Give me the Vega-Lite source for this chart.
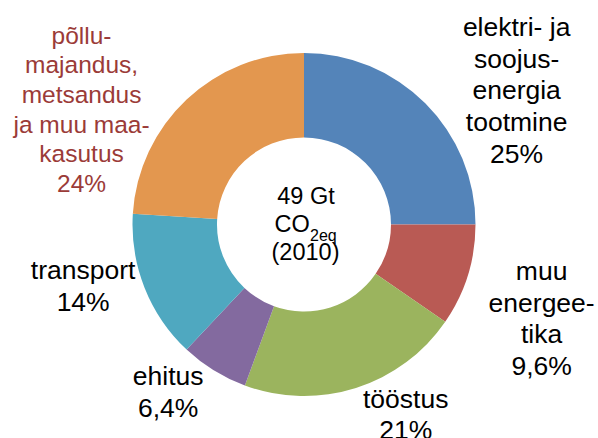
{
  "$schema": "https://vega.github.io/schema/vega-lite/v6.json",
  "width": 588,
  "height": 427,
  "padding": {"left": 10, "top": 11, "right": 0, "bottom": 0},
  "autosize": {"type": "none"},
  "background": "white",
  "config": {"view": {"stroke": null}, "text": {"font": "Liberation Sans"}},
  "data": {"values": [
    {"n": 1, "cat": "elektri", "label": "elektri- ja\nsoojus-\nenergia\ntootmine\n25%", "value": 25},
    {"n": 2, "cat": "muu", "label": "muu\nenergee-\ntika\n9,6%", "value": 9.6},
    {"n": 3, "cat": "tööstus", "label": "tööstus\n21%", "value": 21},
    {"n": 4, "cat": "ehitus", "label": "ehitus\n6,4%", "value": 6.4},
    {"n": 5, "cat": "transport", "label": "transport\n14%", "value": 14},
    {"n": 6, "cat": "põllu", "label": "põllu-\nmajandus,\nmetsandus\nja muu maa-\nkasutus\n24%", "value": 24}
  ]},
  "layer": [
    {
      "mark": {"type": "arc", "radius": 171.5, "radius2": 87},
      "encoding": {
        "theta": {"field": "value", "type": "quantitative", "stack": true},
        "order": {"field": "n", "type": "quantitative"},
        "color": {"field": "cat", "type": "nominal", "legend": null,
          "scale": {"domain": ["elektri", "muu", "tööstus", "ehitus", "transport", "põllu"],
                    "range": ["#5484B9", "#B95A54", "#9BB45E", "#836A9F", "#4FA8C0", "#E3974F"]}}
      }
    },
    {
      "mark": {"type": "text", "radius": 230, "dx": 50, "dy": -34, "fontSize": 26.5, "lineHeight": 31.7, "lineBreak": "\n", "align": "center", "baseline": "middle", "color": "black"},
      "encoding": {
        "theta": {"field": "value", "type": "quantitative", "stack": true},
        "order": {"field": "n", "type": "quantitative"},
        "detail": {"field": "cat"},
        "text": {"condition": {"test": "datum.cat === 'elektri'", "field": "label", "type": "nominal"}, "value": ""}
      }
    },
    {
      "mark": {"type": "text", "radius": 230, "dx": 18, "dy": -21, "fontSize": 26.5, "lineHeight": 31.7, "lineBreak": "\n", "align": "center", "baseline": "middle", "color": "black"},
      "encoding": {
        "theta": {"field": "value", "type": "quantitative", "stack": true},
        "order": {"field": "n", "type": "quantitative"},
        "detail": {"field": "cat"},
        "text": {"condition": {"test": "datum.cat === 'muu'", "field": "label", "type": "nominal"}, "value": ""}
      }
    },
    {
      "mark": {"type": "text", "radius": 230, "dx": 32, "dy": -44, "fontSize": 26.5, "lineHeight": 31.7, "lineBreak": "\n", "align": "center", "baseline": "middle", "color": "black"},
      "encoding": {
        "theta": {"field": "value", "type": "quantitative", "stack": true},
        "order": {"field": "n", "type": "quantitative"},
        "detail": {"field": "cat"},
        "text": {"condition": {"test": "datum.cat === 'tööstus'", "field": "label", "type": "nominal"}, "value": ""}
      }
    },
    {
      "mark": {"type": "text", "radius": 230, "dx": -15, "dy": -43, "fontSize": 26.5, "lineHeight": 31.7, "lineBreak": "\n", "align": "center", "baseline": "middle", "color": "black"},
      "encoding": {
        "theta": {"field": "value", "type": "quantitative", "stack": true},
        "order": {"field": "n", "type": "quantitative"},
        "detail": {"field": "cat"},
        "text": {"condition": {"test": "datum.cat === 'ehitus'", "field": "label", "type": "nominal"}, "value": ""}
      }
    },
    {
      "mark": {"type": "text", "radius": 230, "dx": -7, "dy": -38, "fontSize": 26.5, "lineHeight": 31.7, "lineBreak": "\n", "align": "center", "baseline": "middle", "color": "black"},
      "encoding": {
        "theta": {"field": "value", "type": "quantitative", "stack": true},
        "order": {"field": "n", "type": "quantitative"},
        "detail": {"field": "cat"},
        "text": {"condition": {"test": "datum.cat === 'transport'", "field": "label", "type": "nominal"}, "value": ""}
      }
    },
    {
      "mark": {"type": "text", "radius": 230, "dx": -65, "dy": -20, "fontSize": 24.5, "lineHeight": 29.6, "lineBreak": "\n", "align": "center", "baseline": "middle", "color": "#9B3B38"},
      "encoding": {
        "theta": {"field": "value", "type": "quantitative", "stack": true},
        "order": {"field": "n", "type": "quantitative"},
        "detail": {"field": "cat"},
        "text": {"condition": {"test": "datum.cat === 'põllu'", "field": "label", "type": "nominal"}, "value": ""}
      }
    },
    {
      "data": {"values": [{"t": "49 Gt"}]},
      "mark": {"type": "text", "dx": 2, "dy": -27.5, "fontSize": 23.5, "align": "center", "baseline": "middle", "color": "black"},
      "encoding": {"text": {"field": "t", "type": "nominal"}}
    },
    {
      "data": {"values": [{"t": "CO"}]},
      "mark": {"type": "text", "dx": 5.8, "dy": 0.5, "fontSize": 23.5, "align": "right", "baseline": "middle", "color": "black"},
      "encoding": {"text": {"field": "t", "type": "nominal"}}
    },
    {
      "data": {"values": [{"t": "2eq"}]},
      "mark": {"type": "text", "dx": 6, "dy": 11, "fontSize": 16, "align": "left", "baseline": "middle", "color": "black"},
      "encoding": {"text": {"field": "t", "type": "nominal"}}
    },
    {
      "data": {"values": [{"t": "(2010)"}]},
      "mark": {"type": "text", "dx": 1.5, "dy": 28.5, "fontSize": 23.5, "align": "center", "baseline": "middle", "color": "black"},
      "encoding": {"text": {"field": "t", "type": "nominal"}}
    }
  ]
}
